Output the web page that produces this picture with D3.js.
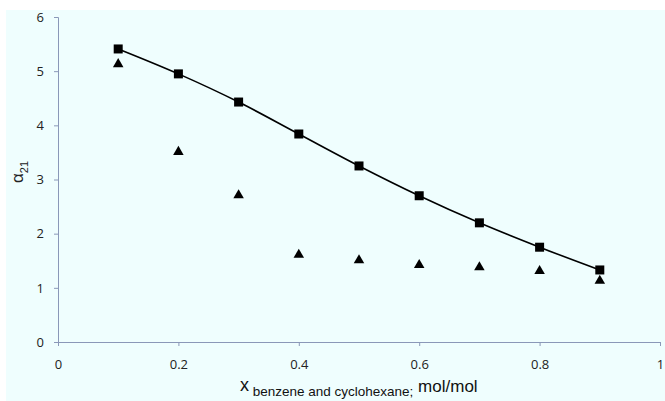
<!DOCTYPE html>
<html><head><meta charset="utf-8">
<script src="https://cdn.jsdelivr.net/npm/d3@7"></script>
<style>body{margin:0;background:#fff}svg{display:block}</style>
</head><body>
<svg id="c" width="665" height="401"></svg>
<script>
const xValues = [0.1,0.2,0.3,0.4,0.5,0.6,0.7,0.8,0.9];
const squareSeries = [5.41,4.95,4.43,3.84,3.25,2.70,2.20,1.75,1.33];
const triangleSeries = [5.13,3.51,2.71,1.61,1.51,1.42,1.38,1.31,1.13];
const xTicks = [0,0.2,0.4,0.6,0.8,1];
const yTicks = [0,1,2,3,4,5,6];

const svg = d3.select("#c");
svg.append("rect").attr("x",6).attr("y",10).attr("width",659).attr("height",391).attr("fill","#effefe");

const x = d3.scaleLinear().domain([0,1]).range([58,660]);
const y = d3.scaleLinear().domain([0,6]).range([342,17]);
const axisColor = "#8a98b8";
const font = "'Open Sans', 'Liberation Sans', Arial, sans-serif";
const lfont = "'Liberation Sans', Arial, sans-serif";

const gx = svg.append("g").attr("transform",`translate(0,${y(0)})`)
  .call(d3.axisBottom(x).tickValues(xTicks).tickFormat(d3.format("")).tickSize(4).tickPadding(14));
const gy = svg.append("g").attr("transform",`translate(${x(0)},0)`)
  .call(d3.axisLeft(y).tickValues(yTicks).tickFormat(d3.format("d")).tickSize(4).tickPadding(10));
[gx,gy].forEach(g=>{
  g.selectAll("path,line").attr("stroke",axisColor);
  g.selectAll("text").attr("fill","#222").style("font-family",font).style("font-size","13px");
});

const line = d3.line().x((d,i)=>x(xValues[i])).y(d=>y(d)).curve(d3.curveCatmullRom);
svg.append("path").datum(squareSeries).attr("d",line).attr("fill","none").attr("stroke","#000").attr("stroke-width",1.6);

svg.selectAll(".sq").data(squareSeries).enter().append("rect")
  .attr("x",(d,i)=>x(xValues[i])-4.5).attr("y",d=>y(d)-4.5).attr("width",9).attr("height",9).attr("fill","#000");

const tri = d3.symbol().type(d3.symbolTriangle).size(48);
svg.selectAll(".tr").data(triangleSeries).enter().append("path")
  .attr("d",tri).attr("transform",(d,i)=>`translate(${x(xValues[i])},${y(d)})`).attr("fill","#000");

// y label
const yl = svg.append("text").attr("transform","translate(23,183) rotate(-90)")
  .attr("text-anchor","start").style("font-family",lfont).attr("fill","#222");
yl.append("tspan").text("α").style("font-size","17px");
yl.append("tspan").text("21").style("font-size","11px").attr("dy",5);

// x label
const xl = svg.append("text").attr("x",240).attr("y",391).style("font-family",lfont).attr("fill","#111");
xl.append("tspan").text("x").style("font-size","18px");
xl.append("tspan").text(" benzene and cyclohexane;").style("font-size","13.5px").attr("dy",5);
xl.append("tspan").text(" mol/mol").style("font-size","17px").attr("dy",-4);
</script>
</body></html>
